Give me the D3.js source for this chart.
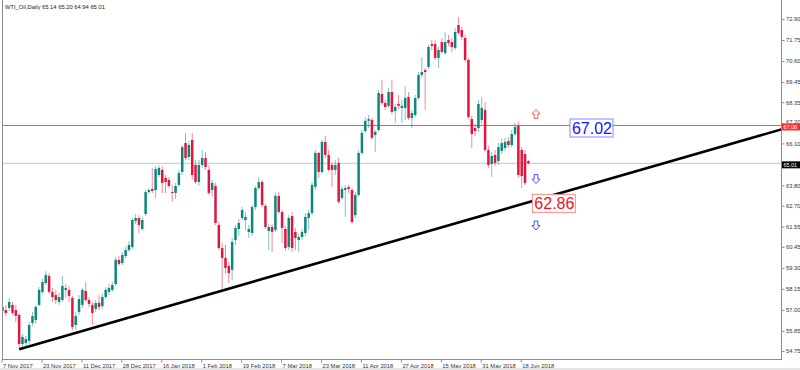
<!DOCTYPE html>
<html>
<head>
<meta charset="utf-8">
<script src="https://cdn.jsdelivr.net/npm/d3@7"></script>
<style>
    body { margin: 0; background: #fff; }
    svg { display: block; font-family: "Liberation Sans", Arial, sans-serif; }
</style>
</head>
<body>
<script>
// daily candles, [open, high, low, close], 7 Nov 2017 .. 20 Jun 2018
var candles = [
    [57.16,57.81,56.77,56.94],[56.99,57.27,56.66,56.83],[57.10,57.65,56.94,57.43],[57.27,57.43,56.72,56.83],
    [56.99,57.27,56.34,56.67],[56.72,56.83,54.92,55.13],[55.13,55.68,54.81,55.52],[55.19,55.57,55.03,55.41],
    [55.30,56.34,55.13,56.17],[56.28,56.88,56.12,56.66],[56.45,57.27,56.23,57.16],[57.27,58.25,57.21,58.09],
    [57.98,58.69,57.87,58.52],[58.47,59.12,58.36,58.91],[58.85,59.01,57.87,57.98],[57.98,58.20,57.43,57.70],
    [57.81,58.09,57.32,57.54],[57.43,57.92,57.27,57.70],[57.54,58.85,57.43,58.30],[58.09,58.41,57.65,58.20],
    [58.09,58.30,57.43,57.76],[57.65,57.76,55.90,56.06],[56.17,56.88,55.90,56.66],[56.88,57.81,56.72,57.59],
    [57.27,58.20,57.10,58.09],[58.03,58.52,57.43,57.54],[57.54,57.70,57.16,57.32],[57.27,57.43,56.17,56.83],
    [57.05,57.54,56.88,57.38],[57.38,57.81,56.99,57.16],[57.21,57.87,57.05,57.70],[57.70,58.25,57.59,58.09],
    [57.98,58.41,57.81,58.20],[58.09,58.52,57.98,58.36],[58.41,59.89,58.30,59.73],[59.73,59.94,59.40,59.51],
    [59.56,60.16,59.45,60.00],[59.94,60.44,59.83,60.27],[60.27,60.76,60.16,60.55],[60.44,62.02,60.33,61.91],
    [61.86,62.24,61.69,62.02],[62.02,62.18,61.20,61.64],[61.42,62.08,61.31,61.91],[62.24,63.55,62.13,63.44],
    [63.44,63.66,63.33,63.55],[63.61,64.76,63.39,63.50],[63.55,64.86,63.12,64.70],[64.37,64.92,64.26,64.76],
    [64.65,64.86,63.39,63.94],[64.21,64.37,63.39,63.99],[64.10,64.26,63.66,63.77],[63.44,63.83,62.90,63.39],
    [63.39,63.94,63.06,63.77],[63.83,64.65,63.72,64.48],[64.54,66.01,64.37,65.90],[66.12,66.67,65.19,65.30],
    [65.36,66.23,65.19,66.01],[66.29,66.67,64.10,64.37],[64.92,65.19,63.88,63.99],[63.99,65.19,63.77,64.92],
    [64.92,65.74,64.76,65.30],[65.30,65.63,64.65,64.81],[64.65,64.92,63.28,63.39],[63.55,64.10,63.17,63.94],
    [63.77,63.94,61.64,61.75],[61.64,61.80,60.27,60.38],[60.38,60.66,58.09,59.84],[59.84,60.55,58.99,59.29],
    [59.40,59.62,58.47,59.01],[59.18,60.93,58.63,60.71],[60.82,61.64,60.55,61.48],[61.42,61.97,61.03,61.75],
    [62.02,62.62,61.91,62.46],[61.91,62.35,61.37,62.08],[61.26,61.64,60.93,61.42],[61.20,62.73,61.03,62.62],
    [62.62,63.77,62.46,63.66],[63.66,64.26,63.55,63.99],[63.99,64.10,62.62,62.73],[62.68,62.79,61.42,61.53],
    [61.31,61.69,60.27,61.53],[61.53,61.69,60.16,61.26],[61.37,63.39,61.26,63.23],[63.23,63.44,62.24,62.35],
    [62.35,62.46,60.66,61.48],[61.42,61.58,60.22,60.38],[60.44,62.18,60.27,62.02],[62.13,62.35,60.16,60.38],
    [61.26,61.48,60.27,60.93],[60.82,61.15,60.16,60.98],[60.98,61.42,60.82,61.26],[61.20,62.29,61.03,62.08],
    [62.02,62.46,61.37,62.29],[62.29,63.99,62.18,63.83],[63.72,65.74,63.55,65.58],[65.58,65.63,64.21,64.54],
    [64.54,66.29,64.43,66.18],[66.18,66.51,65.30,65.47],[65.47,65.74,64.59,64.65],[64.92,65.08,63.72,64.65],
    [64.65,65.19,64.37,64.92],[65.03,65.30,62.79,62.90],[63.12,63.77,63.01,63.61],[63.55,63.83,62.08,63.66],
    [63.72,63.83,63.39,63.61],[63.55,63.66,61.69,61.80],[62.18,63.44,62.02,63.28],[63.28,65.74,63.17,65.58],
    [65.58,66.83,65.47,66.67],[66.78,67.54,66.67,67.33],[67.33,67.65,66.94,67.43],[67.38,67.49,66.29,66.40],
    [66.56,66.83,65.63,66.73],[66.83,69.02,66.73,68.86],[68.80,69.57,68.20,68.31],[68.31,68.47,67.93,68.09],
    [68.15,69.13,68.04,68.91],[68.91,69.57,67.71,67.82],[67.87,68.26,67.22,68.09],[68.26,68.75,67.98,68.15],
    [68.04,68.47,67.22,68.15],[68.04,69.24,67.38,68.58],[68.64,68.91,67.38,67.49],[67.49,67.93,66.94,67.76],
    [67.65,68.75,67.54,68.58],[68.58,70.00,68.47,69.84],[69.84,70.82,69.68,70.00],[70.11,70.22,67.93,70.00],
    [70.28,71.48,70.17,71.37],[71.53,71.75,71.21,71.43],[71.53,71.75,70.66,70.77],[70.77,71.37,70.22,71.21],
    [71.64,71.86,70.99,71.10],[71.04,72.19,70.93,71.64],[71.75,72.03,71.43,71.59],[71.64,71.86,71.10,71.37],
    [71.32,72.41,71.21,72.19],[72.57,73.01,72.03,72.14],[72.30,72.46,71.75,71.92],[71.86,72.03,70.55,70.66],
    [70.66,70.77,67.43,67.54],[67.43,67.60,65.85,66.61],[66.94,67.16,66.51,66.78],[66.94,68.47,66.72,68.25],
    [67.38,68.64,67.16,68.04],[67.93,68.36,65.63,65.74],[65.74,65.96,64.76,64.92],[64.97,65.63,64.26,65.41],
    [65.47,65.74,64.87,65.03],[65.14,66.12,64.92,65.90],[65.69,66.34,65.52,66.12],[65.85,66.40,65.69,66.18],
    [66.23,66.45,65.85,66.01],[66.01,66.83,65.90,66.61],[66.61,67.22,66.51,67.00],[67.05,67.27,64.21,64.37],
    [65.74,65.90,63.66,64.32],[65.52,65.74,63.83,63.94],[65.14,65.20,64.94,65.01]
];

var priceTicks = [72.90, 71.75, 70.60, 69.45, 68.35, 67.20, 66.10, 63.80, 62.70,
                  61.55, 60.45, 59.30, 58.15, 57.00, 55.85, 54.75];

var dateTickBars = [0, 12, 24, 36, 48, 60, 72, 84, 96, 108, 120, 132, 144, 156];
var dateTickLabels = ['7 Nov 2017', '23 Nov 2017', '11 Dec 2017', '28 Dec 2017', '16 Jan 2018',
                      '1 Feb 2018', '19 Feb 2018', '7 Mar 2018', '23 Mar 2018', '11 Apr 2018',
                      '27 Apr 2018', '15 May 2018', '31 May 2018', '18 Jun 2018'];

var resistancePrice = 67.08,
    bidPrice = 65.01;

// trendline anchors [bar, price], drawn as a ray to the right
var trendPoints = [[5, 54.85], [66, 58.05]];

var arrowMarks = [[160.3, 67.71, 'up'], [160.3, 64.15, 'down'], [160.3, 61.61, 'down']];
var noteMarks = [['67.02', 170.5, 66.94, 'up'], ['62.86', 159.2, 62.82, 'down']];

var W = 800, H = 370,
    plotL = 2, plotR = 781, plotT = 0, plotB = 359;

var BULL = '#0c877c', BEAR = '#e0163f';

var svg = d3.select('body').append('svg')
    .attr('width', W)
    .attr('height', H);

var x = d3.scaleLinear().domain([0, 234]).range([2.5, 781.3]);
var y = d3.scaleLinear().domain([54.75, 72.90]).range([351, 19]);

svg.append('clipPath').attr('id', 'plot')
    .append('rect')
    .attr('x', plotL).attr('y', plotT)
    .attr('width', plotR - plotL).attr('height', plotB - plotT);

var plot = svg.append('g').attr('clip-path', 'url(#plot)');

// header
svg.append('text')
    .attr('x', 5).attr('y', 9)
    .attr('font-size', 5.8)
    .attr('fill', '#222')
    .text('WTI_Oil,Daily  ' + candles[candles.length - 1].map(function(d){ return d.toFixed(2); }).join(' '));

// horizontal levels
plot.append('line')
    .attr('x1', plotL).attr('x2', plotR)
    .attr('y1', y(bidPrice)).attr('y2', y(bidPrice))
    .attr('stroke', '#c4c6d0').attr('stroke-width', 1);

plot.append('line')
    .attr('x1', plotL).attr('x2', plotR)
    .attr('y1', y(resistancePrice)).attr('y2', y(resistancePrice))
    .attr('stroke', '#ff4d4d').attr('stroke-width', 1);

// candles
var candle = plot.selectAll('g.candle')
    .data(candles)
    .enter().append('g')
    .attr('class', 'candle');

candle.append('line')
    .attr('x1', function(d, i){ return x(i); })
    .attr('x2', function(d, i){ return x(i); })
    .attr('y1', function(d){ return y(d[1]); })
    .attr('y2', function(d){ return y(d[2]); })
    .attr('stroke', function(d){ return d[3] >= d[0] ? BULL : BEAR; })
    .attr('stroke-opacity', 0.5)
    .attr('stroke-width', 1);

candle.append('rect')
    .attr('x', function(d, i){ return x(i) - 1.25; })
    .attr('width', 2.5)
    .attr('y', function(d){ return y(Math.max(d[0], d[3])); })
    .attr('height', function(d){ return Math.max(1, Math.abs(y(d[0]) - y(d[3]))); })
    .attr('fill', function(d){ return d[3] >= d[0] ? BULL : BEAR; });

// trendline ray
var p0 = [x(trendPoints[0][0]), y(trendPoints[0][1])],
    p1 = [x(trendPoints[1][0]), y(trendPoints[1][1])],
    slope = (p1[1] - p0[1]) / (p1[0] - p0[0]);

plot.append('path')
    .attr('d', 'M' + p0 + ' L' + [plotR + 5, p0[1] + slope * (plotR + 5 - p0[0])])
    .attr('stroke', '#000')
    .attr('stroke-width', 2.6)
    .attr('fill', 'none');

// arrows
var arrowShape = 'M0,-4.5 L4,0 L1.8,0 L1.8,4.5 L-1.8,4.5 L-1.8,0 L-4,0 Z';
plot.selectAll('path.arrow')
    .data(arrowMarks)
    .enter().append('path')
    .attr('class', 'arrow')
    .attr('d', arrowShape)
    .attr('transform', function(d){
        return 'translate(' + [x(d[0]), y(d[1])] + ')' + (d[2] === 'down' ? ' rotate(180)' : '');
    })
    .attr('fill', '#fff')
    .attr('stroke', function(d){ return d[2] === 'up' ? '#ff4a4a' : '#3a3aff'; })
    .attr('stroke-width', 0.9);

// boxed price notes
var note = plot.selectAll('g.note')
    .data(noteMarks)
    .enter().append('g')
    .attr('class', 'note')
    .attr('transform', function(d){ return 'translate(' + [x(d[1]), y(d[2])] + ')'; });

note.append('rect')
    .attr('x', 0).attr('y', -9)
    .attr('width', 43).attr('height', 18)
    .attr('fill', '#fff')
    .attr('stroke', function(d){ return d[3] === 'up' ? '#8a8aff' : '#ff8a8a'; })
    .attr('stroke-width', 1);

note.append('text')
    .attr('x', 2).attr('y', 6)
    .attr('font-size', 16)
    .attr('fill', function(d){ return d[3] === 'up' ? '#1414f0' : '#f01414'; })
    .text(function(d){ return d[0]; });

// frame
svg.append('rect')
    .attr('x', plotL + 0.5).attr('y', plotT - 1)
    .attr('width', plotR - plotL).attr('height', plotB - plotT + 1.5)
    .attr('fill', 'none')
    .attr('stroke', '#8c8c8c');

// price axis
var yAxis = svg.append('g')
    .attr('transform', 'translate(' + (plotR + 0.5) + ',0)')
    .call(d3.axisRight(y).tickValues(priceTicks).tickSize(3).tickPadding(1.5)
        .tickFormat(d3.format('.2f')));
yAxis.select('.domain').remove();
yAxis.selectAll('line').attr('stroke', '#8c8c8c');
yAxis.selectAll('text')
    .attr('font-size', 5.8)
    .attr('font-family', '"Liberation Sans", Arial, sans-serif')
    .attr('fill', '#333')
    .attr('dy', function(d){ return Math.abs(d - resistancePrice) < 0.3 ? '0.1em' : '0.32em'; });

// date axis
var xAxis = svg.append('g')
    .attr('transform', 'translate(-1,' + (plotB + 0.5) + ')')
    .call(d3.axisBottom(x).tickValues(dateTickBars).tickSize(3).tickPadding(1.5)
        .tickFormat(function(d, i){ return dateTickLabels[i]; }));
xAxis.select('.domain').remove();
xAxis.selectAll('line').attr('stroke', '#8c8c8c');
xAxis.selectAll('text')
    .attr('text-anchor', 'start')
    .attr('dx', 1)
    .attr('font-size', 5.8)
    .attr('font-family', '"Liberation Sans", Arial, sans-serif')
    .attr('fill', '#333');

// price badges on the axis
var badges = [[resistancePrice, '#ff2e2e'], [bidPrice, '#000']];
var badge = svg.selectAll('g.badge')
    .data(badges)
    .enter().append('g')
    .attr('class', 'badge')
    .attr('transform', function(d){ return 'translate(' + [plotR + 1, y(d[0]) + 1.5] + ')'; });

badge.append('rect')
    .attr('x', 0).attr('y', -3.5)
    .attr('width', 18).attr('height', 7)
    .attr('fill', function(d){ return d[1]; });

badge.append('text')
    .attr('x', 1.5).attr('y', 2)
    .attr('font-size', 5.4)
    .attr('fill', '#fff')
    .text(function(d){ return d[0].toFixed(2); });

// window edge
svg.append('rect')
    .attr('x', 0).attr('y', H - 2)
    .attr('width', W).attr('height', 2)
    .attr('fill', '#e4e4e4');
</script>
</body>
</html>
